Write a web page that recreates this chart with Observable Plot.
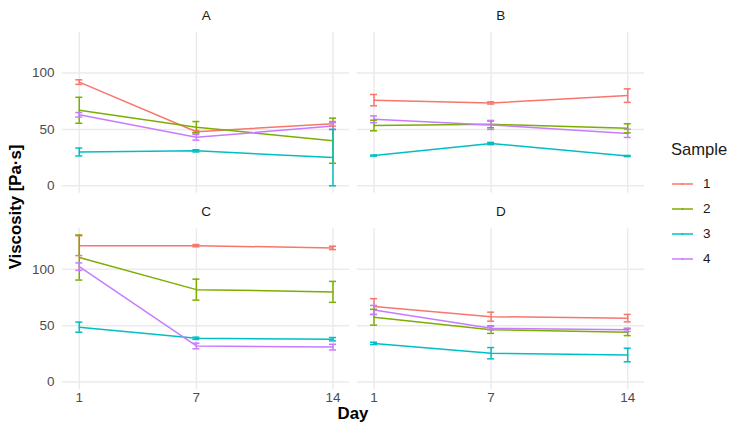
<!DOCTYPE html>
<html>
<head>
<meta charset="utf-8">
<script src="https://cdn.jsdelivr.net/npm/d3@7"></script>
<script src="https://cdn.jsdelivr.net/npm/@observablehq/plot@0.6"></script>
<style>
  html, body { margin: 0; padding: 0; background: #fff; }
  #wrap { position: relative; width: 735px; height: 434px; font-family: "Liberation Sans", Arial, Helvetica, sans-serif; }
  #wrap svg text { font-size: 13.5px !important; font-family: "Liberation Sans", Arial, Helvetica, sans-serif !important; }
  .ttl { position: absolute; font-weight: bold; font-size: 16.8px; color: #000; white-space: nowrap; line-height: 1; }
  #legend { position: absolute; left: 670px; top: 140px; font-size: 13.5px; color: #1A1A1A; }
  #legend .lt { font-size: 16.6px; position: absolute; left: 1px; top: 2px; white-space: nowrap; line-height: 1; }
  #legend .row { position: absolute; left: 2px; height: 20px; display: flex; align-items: center; line-height: 1; }
  #legend .row span { margin-left: 10px; }
</style>
</head>
<body>
<div id="wrap"></div>
<script>
// ---- data ----
const panels = ["A", "B", "C", "D"];
const panelCol = [0, 1, 0, 1];
const panelRow = [0, 0, 1, 1];
const days = [1, 7, 14];
const yTicks = [0, 50, 100];
const samples = ["1", "2", "3", "4"];
const colors = ["#F8766D", "#7CAE00", "#00BFC4", "#C77CFF"];

// mean viscosity per sample (rows) and day (columns)
const meanA = [[92, 48, 55], [67, 52, 40], [30, 31, 25], [63, 43, 53]];
const errA  = [[2, 1, 2], [11.5, 5, 20], [3.5, 1, 25], [2, 2.5, 3]];
const meanB = [[76, 73.5, 80], [53.5, 54.5, 51], [26.8, 37.5, 26.4], [59, 54, 46.5]];
const errB  = [[5, 1, 6], [4.7, 3, 4], [0.5, 1, 0.5], [3, 4, 3.6]];
const meanC = [[121, 121, 119], [110.5, 82, 80], [48.7, 38.8, 38], [102.4, 32, 31]];
const errC  = [[8.8, 1, 1.5], [20, 9.3, 9.3], [4.5, 1, 1.5], [3.3, 2.5, 2.5]];
const meanD = [[67, 58, 56.7], [57.5, 46.5, 44.2], [34.3, 25.6, 24], [64, 47.8, 46.3]];
const errD  = [[7, 4, 3.3], [7, 3.3, 3], [1, 5, 6], [4, 1.5, 1.5]];

const means = [meanA, meanB, meanC, meanD];
const errs = [errA, errB, errC, errD];

const rows = [];
panels.forEach((p, pi) => {
  samples.forEach((s, si) => {
    days.forEach((d, di) => {
      rows.push({panel: p, col: panelCol[pi], row: panelRow[pi], sample: s, day: d,
                 mean: means[pi][si][di], err: errs[pi][si][di]});
    });
  });
});
const strips = panels.map((p, i) => ({name: p, col: panelCol[i], row: panelRow[i]}));
const capHalf = 0.18;

const chart = Plot.plot({
  width: 735,
  height: 434,
  marginLeft: 62,
  marginRight: 91,
  marginTop: 32,
  marginBottom: 45,
  style: {fontFamily: "'Liberation Sans', Arial, Helvetica, sans-serif", fontSize: "13.5px", color: "#4D4D4D", background: "#fff"},
  fx: {axis: null, domain: [0, 1], paddingInner: 0.0254, paddingOuter: 0, round: false},
  fy: {axis: null, domain: [0, 1], paddingInner: 0.181, paddingOuter: 0, round: false},
  x: {domain: [0.14, 14.86], axis: null},
  y: {domain: [-6.6, 136], axis: null},
  color: {domain: samples, range: colors},
  marks: [
    Plot.ruleY(yTicks, {stroke: "#EBEBEB", strokeWidth: 1.5}),
    Plot.ruleX(days, {stroke: "#EBEBEB", strokeWidth: 1.5}),
    Plot.axisY({ticks: yTicks, tickSize: 0, tickPadding: 8, label: null, fontSize: 13.5, fill: "#4D4D4D"}),
    Plot.axisX({ticks: days, tickSize: 0, tickPadding: 3, label: null, fontSize: 13.5, fill: "#4D4D4D"}),
    Plot.line(rows, {fx: "col", fy: "row", x: "day", y: "mean", z: "sample", stroke: "sample", strokeWidth: 1.5}),
    Plot.ruleX(rows, {fx: "col", fy: "row", x: "day", y1: d => d.mean - d.err, y2: d => d.mean + d.err, stroke: "sample", strokeWidth: 1.5}),
    Plot.ruleY(rows, {fx: "col", fy: "row", y: d => d.mean - d.err, x1: d => d.day - capHalf, x2: d => d.day + capHalf, stroke: "sample", strokeWidth: 1.5}),
    Plot.ruleY(rows, {fx: "col", fy: "row", y: d => d.mean + d.err, x1: d => d.day - capHalf, x2: d => d.day + capHalf, stroke: "sample", strokeWidth: 1.5}),
    Plot.text(strips, {fx: "col", fy: "row", text: "name", frameAnchor: "top", lineAnchor: "middle", dy: -17, fill: "#1A1A1A", fontSize: 13.5})
  ]
});

const wrap = document.getElementById("wrap");
wrap.appendChild(chart);

const yt = document.createElement("div");
yt.className = "ttl";
yt.textContent = "Viscosity [Pa·s]";
yt.style.left = "15.8px";
yt.style.top = "207px";
yt.style.transform = "translate(-50%, -50%) rotate(-90deg)";
wrap.appendChild(yt);

const xt = document.createElement("div");
xt.className = "ttl";
xt.textContent = "Day";
xt.style.left = "353px";
xt.style.top = "414px";
xt.style.transform = "translate(-50%, -50%)";
wrap.appendChild(xt);

const lg = document.createElement("div");
lg.id = "legend";
let html = '<div class="lt">Sample</div>';
samples.forEach((s, i) => {
  html += `<div class="row" style="top:${33.5 + i * 25}px"><svg width="21" height="8"><line x1="0" x2="21" y1="4" y2="4" stroke="${colors[i]}" stroke-width="1.5"/><line x1="10.5" x2="10.5" y1="3" y2="5" stroke="${colors[i]}" stroke-width="1.5"/></svg><span>${s}</span></div>`;
});
lg.innerHTML = html;
wrap.appendChild(lg);
</script>
</body>
</html>
